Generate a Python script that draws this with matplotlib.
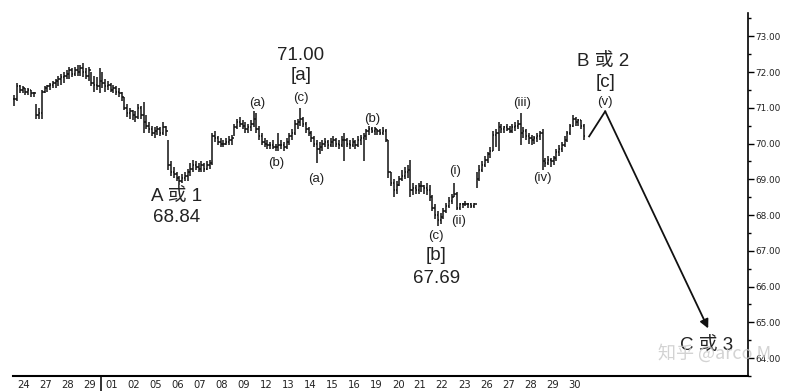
# Elliott wave chart - hourly OHLC bars with wave labels
import numpy as np
import matplotlib as mpl
import matplotlib.pyplot as plt

mpl.rcParams['font.family'] = ['Liberation Sans', 'Noto Sans CJK SC', 'DejaVu Sans']

# date labels (one per trading day)
days = ['24', '27', '28', '29', '01', '02', '05', '06', '07', '08', '09', '12', '13',
        '14', '15', '16', '19', '20', '21', '22', '23', '26', '27', '28', '29', '30']

# 8 bars per day: highs / lows / closes
highs = [
    [71.35, 71.7, 71.65, 71.6, 71.55, 71.55, 71.5, 71.45],
    [71.1, 71.0, 71.5, 71.6, 71.65, 71.7, 71.75, 71.8],
    [71.9, 71.95, 72.0, 72.05, 72.15, 72.1, 72.15, 72.2],
    [72.2, 72.25, 72.1, 72.15, 72.0, 71.9, 71.85, 72.1],
    [72.0, 71.8, 71.75, 71.7, 71.65, 71.6, 71.55, 71.45],
    [71.3, 71.1, 71.0, 70.95, 70.9, 71.1, 71.05, 71.15],
    [70.8, 70.6, 70.5, 70.45, 70.5, 70.45, 70.6, 70.5],
    [70.1, 69.5, 69.35, 69.2, 69.1, 69.15, 69.2, 69.3],
    [69.45, 69.55, 69.5, 69.45, 69.5, 69.45, 69.5, 69.55],
    [70.3, 70.35, 70.2, 70.15, 70.1, 70.15, 70.2, 70.25],
    [70.55, 70.7, 70.75, 70.65, 70.6, 70.55, 70.65, 70.9],
    [70.85, 70.5, 70.3, 70.15, 70.1, 70.05, 70.1, 70.0],
    [70.3, 70.1, 70.05, 70.15, 70.3, 70.4, 70.65, 70.7],
    [71.0, 70.75, 70.6, 70.45, 70.35, 70.2, 70.1, 70.05],
    [70.1, 70.15, 70.1, 70.15, 70.2, 70.15, 70.1, 70.2],
    [70.3, 70.15, 70.1, 70.15, 70.1, 70.2, 70.25, 70.3],
    [70.4, 70.5, 70.45, 70.45, 70.4, 70.4, 70.45, 70.4],
    [70.1, 69.2, 69.0, 68.95, 69.1, 69.25, 69.35, 69.4],
    [69.55, 68.9, 68.85, 68.9, 68.95, 68.85, 68.9, 68.85],
    [68.55, 68.3, 68.1, 68.05, 68.2, 68.35, 68.5, 68.6],
    [68.9, 68.65, 68.35, 68.35, 68.4, 68.35, 68.35, 68.35],
    [69.2, 69.4, 69.5, 69.65, 69.75, 69.9, 70.35, 70.4],
    [70.6, 70.55, 70.5, 70.55, 70.5, 70.55, 70.6, 70.65],
    [70.85, 70.45, 70.4, 70.3, 70.25, 70.2, 70.3, 70.35],
    [70.4, 69.6, 69.65, 69.6, 69.65, 69.85, 69.95, 70.05],
    [70.2, 70.35, 70.55, 70.8, 70.75, 70.7, 70.65, 70.55],
]
lows = [
    [71.05, 71.2, 71.4, 71.4, 71.35, 71.35, 71.3, 71.3],
    [70.7, 70.7, 70.7, 71.4, 71.45, 71.5, 71.55, 71.55],
    [71.6, 71.65, 71.7, 71.8, 71.8, 71.85, 71.9, 71.9],
    [71.9, 71.85, 71.8, 71.75, 71.6, 71.45, 71.5, 71.4],
    [71.55, 71.45, 71.5, 71.45, 71.4, 71.35, 71.3, 71.2],
    [70.95, 70.75, 70.7, 70.65, 70.6, 70.7, 70.7, 70.3],
    [70.4, 70.3, 70.2, 70.15, 70.25, 70.2, 70.25, 70.2],
    [69.25, 69.1, 69.05, 68.95, 68.84, 68.9, 68.95, 68.95],
    [69.1, 69.2, 69.25, 69.2, 69.2, 69.2, 69.25, 69.3],
    [69.4, 70.05, 69.95, 69.9, 69.9, 69.95, 69.95, 69.95],
    [70.2, 70.4, 70.45, 70.4, 70.3, 70.3, 70.35, 70.45],
    [70.3, 70.1, 69.95, 69.9, 69.85, 69.85, 69.85, 69.8],
    [69.8, 69.85, 69.8, 69.85, 69.95, 70.1, 70.25, 70.4],
    [70.5, 70.45, 70.3, 70.2, 70.05, 69.9, 69.45, 69.7],
    [69.8, 69.9, 69.85, 69.9, 69.9, 69.9, 69.85, 69.9],
    [69.5, 69.9, 69.85, 69.9, 69.85, 69.9, 69.95, 69.5],
    [70.1, 70.25, 70.3, 70.25, 70.25, 70.25, 70.25, 70.05],
    [69.05, 68.8, 68.5, 68.6, 68.8, 68.95, 69.0, 69.05],
    [68.5, 68.55, 68.6, 68.6, 68.65, 68.6, 68.55, 68.4],
    [68.1, 67.9, 67.69, 67.75, 67.9, 68.05, 68.2, 68.3],
    [68.5, 68.15, 68.15, 68.2, 68.25, 68.2, 68.2, 68.2],
    [68.75, 68.95, 69.2, 69.35, 69.45, 69.6, 69.8, 69.9],
    [69.8, 70.3, 70.3, 70.35, 70.3, 70.3, 70.35, 70.4],
    [69.95, 70.15, 70.1, 70.0, 69.95, 70.0, 70.05, 70.1],
    [69.25, 69.35, 69.4, 69.35, 69.4, 69.5, 69.65, 69.75],
    [69.9, 70.05, 70.25, 70.45, 70.5, 70.5, 70.4, 70.1],
]
closes = [
    [71.25, 71.6, 71.5, 71.55, 71.45, 71.5, 71.4, 71.4],
    [70.8, 70.85, 71.45, 71.55, 71.6, 71.65, 71.7, 71.75],
    [71.8, 71.85, 71.9, 71.95, 72.05, 71.95, 72.05, 72.0],
    [72.1, 72.0, 71.9, 72.05, 71.7, 71.65, 71.6, 71.75],
    [71.7, 71.6, 71.65, 71.5, 71.55, 71.45, 71.4, 71.3],
    [71.0, 70.85, 70.9, 70.8, 70.75, 71.0, 70.8, 70.6],
    [70.5, 70.4, 70.3, 70.35, 70.4, 70.3, 70.45, 70.35],
    [69.4, 69.2, 69.15, 69.05, 68.95, 69.05, 69.1, 69.2],
    [69.3, 69.4, 69.35, 69.3, 69.4, 69.3, 69.4, 69.45],
    [70.2, 70.15, 70.05, 70.0, 70.0, 70.05, 70.1, 70.15],
    [70.45, 70.6, 70.55, 70.5, 70.4, 70.45, 70.55, 70.7],
    [70.4, 70.2, 70.05, 70.0, 69.95, 69.95, 69.9, 69.9],
    [69.95, 69.95, 69.9, 70.05, 70.2, 70.3, 70.55, 70.6],
    [70.7, 70.55, 70.4, 70.3, 70.15, 70.0, 69.85, 69.9],
    [70.0, 70.05, 69.95, 70.05, 70.1, 70.0, 69.95, 70.1],
    [70.1, 70.0, 69.95, 70.05, 69.95, 70.1, 70.15, 70.2],
    [70.35, 70.4, 70.35, 70.4, 70.35, 70.3, 70.35, 70.1],
    [69.2, 68.9, 68.7, 68.85, 69.0, 69.1, 69.2, 69.25],
    [68.7, 68.75, 68.7, 68.8, 68.8, 68.75, 68.7, 68.5],
    [68.2, 68.0, 67.85, 67.95, 68.1, 68.25, 68.4, 68.5],
    [68.6, 68.2, 68.3, 68.3, 68.3, 68.3, 68.25, 68.3],
    [69.0, 69.25, 69.4, 69.55, 69.7, 69.8, 70.25, 70.3],
    [70.45, 70.4, 70.45, 70.4, 70.35, 70.45, 70.5, 70.55],
    [70.3, 70.35, 70.2, 70.15, 70.1, 70.15, 70.2, 70.3],
    [69.5, 69.45, 69.55, 69.5, 69.6, 69.75, 69.85, 69.95],
    [70.1, 70.3, 70.5, 70.7, 70.6, 70.65, 70.5, 70.2],
]

# projected wave path (x in trading-day units)
proj_x = [25.68, 26.41, 31.09]
proj_y = [70.2, 70.9, 64.83]

hi = np.array(highs).ravel()
lo = np.array(lows).ravel()
cl = np.array(closes).ravel()
op = np.r_[cl[0], cl[:-1]]
nb = len(highs[0])
xs = np.array([d + (k - (nb - 1) / 2) / nb for d in range(len(days)) for k in range(nb)])

fig = plt.figure(figsize=(7.96, 3.91), dpi=100)
ax = fig.add_axes([13 / 796, 15 / 391, 735 / 796, 363 / 391])

w = 0.055
ax.vlines(xs, lo, hi, color='#111111', lw=1.1)
ax.hlines(op, xs - w, xs, color='#111111', lw=1.1)
ax.hlines(cl, xs, xs + w, color='#111111', lw=1.1)

ax.plot(proj_x[:2], proj_y[:2], color='#111111', lw=1.3)
ax.annotate('', xy=(proj_x[2], proj_y[2]), xytext=(proj_x[1], proj_y[1]),
            arrowprops=dict(arrowstyle='-|>', color='#111111', lw=1.3, mutation_scale=13,
                            shrinkA=0, shrinkB=0))

# watermark (drawn under the labels)
fig.text(0.898, 0.097, '知乎 @arco M', fontsize=13, color='#c8c8c8', alpha=0.8,
         ha='center', va='center', family=['Noto Sans CJK SC', 'DejaVu Sans'], zorder=0)

# wave labels
big, small = 13.5, 9.5
labels = [
    ('71.00', 12.59, 72.47, big), ('[a]', 12.59, 71.89, big), ('(c)', 12.59, 71.28, small),
    ('(a)', 10.59, 71.12, small), ('(b)', 11.45, 69.46, small),
    ('(a)', 13.27, 69.02, small), ('(b)', 15.82, 70.70, small),
    ('A 或 1', 6.95, 68.52, big), ('68.84', 6.95, 67.94, big),
    ('(c)', 18.73, 67.42, small), ('[b]', 18.73, 66.87, big), ('67.69', 18.73, 66.24, big),
    ('(i)', 19.59, 69.24, small), ('(ii)', 19.73, 67.83, small),
    ('(iii)', 22.64, 71.12, small), ('(iv)', 23.55, 69.05, small),
    ('B 或 2', 26.32, 72.30, big), ('[c]', 26.45, 71.72, big), ('(v)', 26.41, 71.17, small),
    ('C 或 3', 31.0, 64.36, big),
]
for txt, x, y, fs in labels:
    ax.text(x, y, txt, fontsize=fs, ha='center', va='center', color='#222222')

ax.set_xlim(-0.5, 32.9)
ax.set_ylim(63.64, 73.65)

ax.set_xticks(range(len(days)))
ax.set_xticklabels(days, family='DejaVu Sans', fontsize=7.2, color='#222222')
ax.tick_params(axis='x', length=0, pad=3)

ax.yaxis.tick_right()
ax.set_yticks(np.arange(64, 74))
ax.set_yticks(np.arange(63.5, 73.6, 1.0), minor=True)
ax.set_yticklabels(['%.2f' % v for v in np.arange(64, 74)], family='DejaVu Sans',
                   fontsize=6.4, color='#222222')
ax.tick_params(axis='y', which='major', length=4, width=1, pad=1, direction='out')
ax.tick_params(axis='y', which='minor', length=2, width=1, direction='out')

for s in ['left', 'top']:
    ax.spines[s].set_visible(False)
ax.spines['bottom'].set_linewidth(1.5)
ax.spines['right'].set_linewidth(1.2)

# month separator below the axis
ax.plot([3.5, 3.5], [0, -0.05], color='#111111', lw=1.2,
        transform=ax.get_xaxis_transform(), clip_on=False)

fig.savefig('out.png', dpi=100)
